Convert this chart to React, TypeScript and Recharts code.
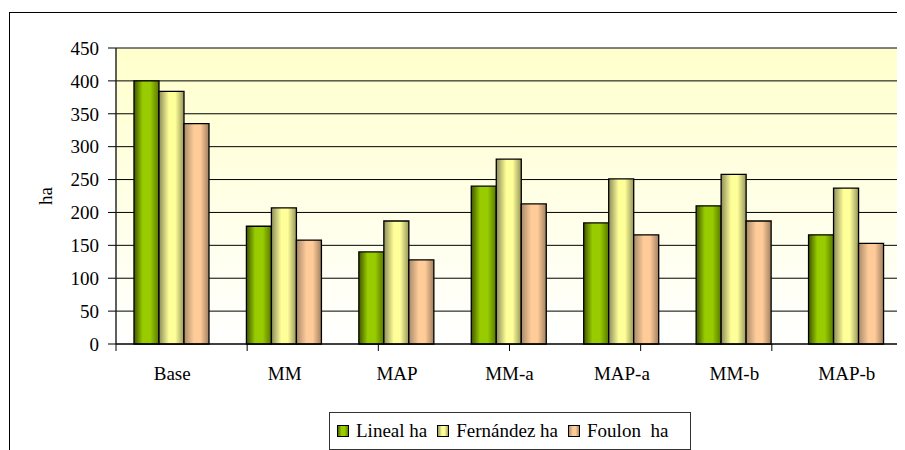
import React from 'react';
import { ComposedChart, Bar, XAxis, YAxis, CartesianGrid, Legend, ReferenceArea } from 'recharts';

const categories = ['Base', 'MM', 'MAP', 'MM-a', 'MAP-a', 'MM-b', 'MAP-b'];
const linealHa = [400, 179, 140, 240, 184, 210, 166];
const fernandezHa = [384, 207, 187, 281, 251, 258, 237];
const foulonHa = [335, 158, 128, 213, 166, 187, 153];
const yTicks = [0, 50, 100, 150, 200, 250, 300, 350, 400, 450];
const boundaryTicks = [0, 1, 2, 3, 4, 5, 6, 7];

const seriesNames = ['Lineal ha', 'Fernández ha', 'Foulon  ha'];

const data = categories.map((c, i) => ({
  name: c,
  lineal: linealHa[i],
  fernandez: fernandezHa[i],
  foulon: foulonHa[i],
}));

const FONT = 'Liberation Serif';

const LegendBox = () => {
  const items = [
    { name: seriesNames[0], grad: 'url(#gGreen)' },
    { name: seriesNames[1], grad: 'url(#gYellow)' },
    { name: seriesNames[2], grad: 'url(#gOrange)' },
  ];
  return (
    <div
      style={{
        boxSizing: 'border-box',
        width: 362,
        height: 38,
        border: '1px solid #333',
        background: '#fff',
        display: 'flex',
        alignItems: 'center',
        paddingLeft: 7,
        fontFamily: FONT,
        fontSize: 19,
        color: '#000',
        whiteSpace: 'pre',
      }}
    >
      {items.map((it, i) => (
        <div key={i} style={{ display: 'flex', alignItems: 'center', marginRight: 10 }}>
          <svg width={12} height={12} style={{ marginRight: 7 }}>
            <rect x={0.5} y={0.5} width={11} height={11} fill={it.grad} stroke="#000" strokeWidth={1} />
          </svg>
          <span>{it.name}</span>
        </div>
      ))}
    </div>
  );
};

export default function App() {
  return (
    <div style={{ paddingTop: 4, paddingLeft: 1, fontFamily: FONT }}>
      <div style={{ borderTop: '1px solid #000', borderLeft: '1px solid #000', width: 896, height: 437 }}>
        <ComposedChart
          width={895}
          height={437}
          data={data}
          margin={{ top: 35, right: 2, left: 0, bottom: 0 }}
          barCategoryGap="16%"
          barGap={0}
        >
          <defs>
            <linearGradient id="bgGrad" x1="0" y1="0" x2="0" y2="1">
              <stop offset="0%" stopColor="#ffffcc" />
              <stop offset="100%" stopColor="#ffffff" />
            </linearGradient>
            <linearGradient id="gGreen" x1="0" y1="0" x2="1" y2="0">
              <stop offset="0%" stopColor="#3f5500" />
              <stop offset="35%" stopColor="#99cc00" />
              <stop offset="65%" stopColor="#99cc00" />
              <stop offset="100%" stopColor="#587800" />
            </linearGradient>
            <linearGradient id="gYellow" x1="0" y1="0" x2="1" y2="0">
              <stop offset="0%" stopColor="#8c8c5a" />
              <stop offset="40%" stopColor="#ffff99" />
              <stop offset="65%" stopColor="#ffff99" />
              <stop offset="100%" stopColor="#96965c" />
            </linearGradient>
            <linearGradient id="gOrange" x1="0" y1="0" x2="1" y2="0">
              <stop offset="0%" stopColor="#a88a6a" />
              <stop offset="40%" stopColor="#ffcc99" />
              <stop offset="65%" stopColor="#ffcc99" />
              <stop offset="100%" stopColor="#a0805f" />
            </linearGradient>
          </defs>
          <CartesianGrid vertical={false} stroke="#000" strokeWidth={1} fill="url(#bgGrad)" />
          <XAxis
            xAxisId="a"
            type="number"
            domain={[0, 7]}
            ticks={boundaryTicks}
            height={1}
            tickSize={7}
            tickFormatter={() => ''}
            stroke="#000"
            tickLine={{ stroke: '#000' }}
            axisLine={{ stroke: '#000' }}
            allowDataOverflow
          />
          <XAxis
            xAxisId="b"
            dataKey="name"
            height={67}
            tickLine={false}
            axisLine={false}
            tickSize={0}
            tickMargin={22}
            interval={0}
            tick={{ fill: '#000', fontFamily: FONT, fontSize: 19 }}
          />
          <YAxis
            domain={[0, 450]}
            ticks={yTicks}
            width={106}
            tickSize={8}
            tickMargin={9}
            stroke="#000"
            axisLine={{ stroke: '#000' }}
            tickLine={{ stroke: '#000' }}
            tick={{ fill: '#000', fontFamily: FONT, fontSize: 19 }}
            label={{
              value: 'ha',
              angle: -90,
              position: 'insideLeft',
              offset: 35,
              style: { textAnchor: 'middle', fill: '#000', fontFamily: FONT, fontSize: 19 },
            }}
          />
          <ReferenceArea xAxisId="a" x1={0} x2={7} y1={0} y2={450} fill="none" stroke="#808080" strokeWidth={1} ifOverflow="visible" />
          <Bar xAxisId="b" dataKey="lineal" name={seriesNames[0]} fill="url(#gGreen)" stroke="#000" strokeWidth={1.3} isAnimationActive={false} />
          <Bar xAxisId="b" dataKey="fernandez" name={seriesNames[1]} fill="url(#gYellow)" stroke="#000" strokeWidth={1.3} isAnimationActive={false} />
          <Bar xAxisId="b" dataKey="foulon" name={seriesNames[2]} fill="url(#gOrange)" stroke="#000" strokeWidth={1.3} isAnimationActive={false} />
          <Legend content={<LegendBox />} wrapperStyle={{ left: 319, bottom: 0, width: 362, height: 38 }} />
        </ComposedChart>
      </div>
    </div>
  );
}
